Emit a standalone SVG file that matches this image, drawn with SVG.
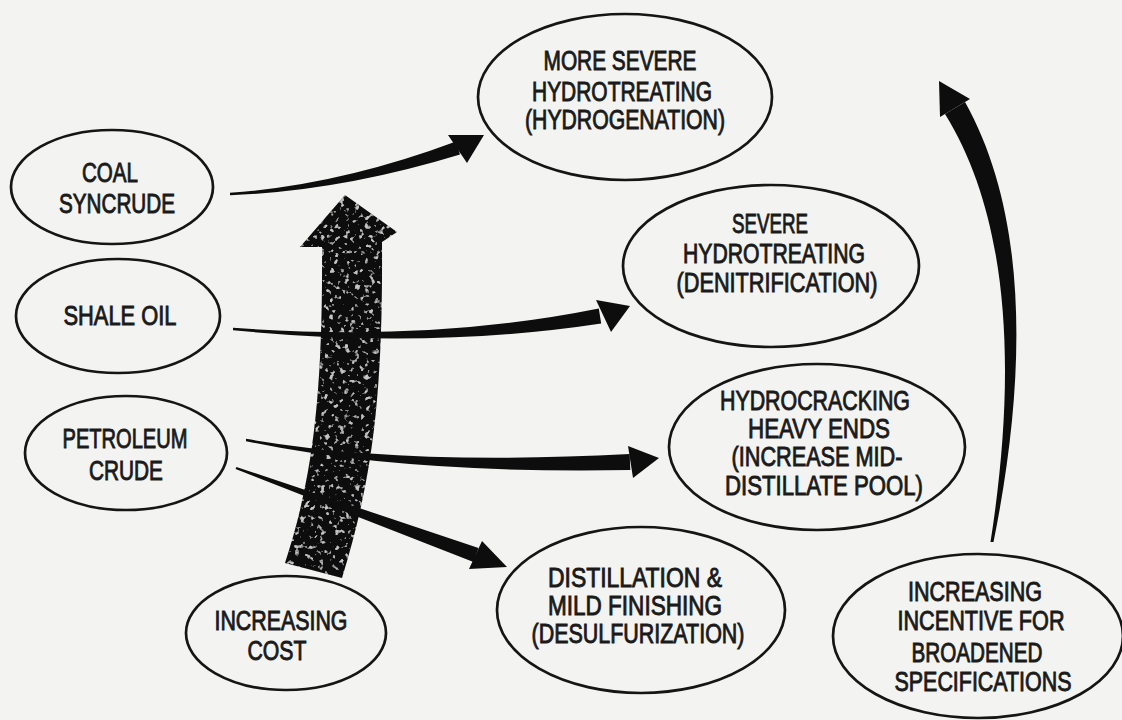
<svg xmlns="http://www.w3.org/2000/svg" width="1122" height="720" viewBox="0 0 1122 720">
<defs>
<style>
.node ellipse{fill:none;stroke:#151515;stroke-width:2.7}
.node text{font-family:"Liberation Sans",Arial,sans-serif;font-size:27px;fill:#1a1a1a;stroke:#1a1a1a;stroke-width:0.9;text-anchor:middle}
.arr{fill:#0d0d0d}
</style>
<filter id="speckle" x="0" y="0" width="1" height="1">
<feTurbulence type="fractalNoise" baseFrequency="0.2" numOctaves="2" seed="7" result="n"/>
<feColorMatrix in="n" type="matrix" values="0 0 0 0 0.55  0 0 0 0 0.55  0 0 0 0 0.55  7 0 0 0 -4.2" result="spk"/>
<feComposite in="spk" in2="SourceGraphic" operator="in" result="spk2"/>
<feMerge><feMergeNode in="SourceGraphic"/><feMergeNode in="spk2"/></feMerge>
</filter>
</defs>
<rect width="1122" height="720" fill="#f3f3f1"/>

<g id="connectors">
<g id="cost-arrow">
<path filter="url(#speckle)" fill="#0b0b0b" d="M345 195 L397 232 L382 242 C383 400 372 480 342 578 L285 563 C312 480 323 400 322 247 L300 247 Z"/>
</g>
<g id="coal-to-more-severe" class="arr">
<path d="M230 192.8 Q339.4 185 456 141.5 L460 154.5 Q340.6 191 230 195.2 Z"/>
<path d="M484 135 L448 135 L467 163 Z"/>
</g>
<g id="shale-to-severe" class="arr">
<path d="M233 327.8 Q429.8 342.5 598.8 308.5 L601.2 323.5 Q430.2 349.5 233 330.2 Z"/>
<path d="M630 306 L596 300 L611 332 Z"/>
</g>
<g id="petroleum-to-hydrocracking" class="arr">
<path d="M246 438.8 Q400.3 466 629.7 454 L630.3 470 Q399.7 474 246 441.2 Z"/>
<path d="M659 458 L628 446 L633 478 Z"/>
</g>
<g id="petroleum-to-distillation" class="arr">
<path d="M236.4 466.9 L478.5 548 L473.5 562 L235.6 469.1 Z"/>
<path d="M507 567 L482 541 L469 569 Z"/>
</g>
<g id="incentive-arrow" class="arr">
<path d="M990.5 542 C1016 379 1012 222 945 114 L965 102 C1030 218 1026 381 993.5 542 Z"/>
<path d="M939 81 L940 117 L970 99 Z"/>
</g>
</g>

<g id="coal-syncrude" class="node">
<ellipse cx="112" cy="187" rx="101" ry="57"/>
<text x="110" y="182" textLength="56" lengthAdjust="spacingAndGlyphs">COAL</text>
<text x="117" y="213" textLength="116" lengthAdjust="spacingAndGlyphs">SYNCRUDE</text>
</g>
<g id="shale-oil" class="node">
<ellipse cx="118" cy="316" rx="102" ry="57"/>
<text x="120" y="325" textLength="113" lengthAdjust="spacingAndGlyphs">SHALE OIL</text>
</g>
<g id="petroleum-crude" class="node">
<ellipse cx="126" cy="453" rx="101" ry="57"/>
<text x="125" y="448" textLength="125" lengthAdjust="spacingAndGlyphs">PETROLEUM</text>
<text x="126" y="480" textLength="74" lengthAdjust="spacingAndGlyphs">CRUDE</text>
</g>
<g id="increasing-cost" class="node">
<ellipse cx="286" cy="633" rx="100" ry="57"/>
<text x="281" y="630" textLength="133" lengthAdjust="spacingAndGlyphs">INCREASING</text>
<text x="277" y="660" textLength="59" lengthAdjust="spacingAndGlyphs">COST</text>
</g>
<g id="more-severe-hydrotreating" class="node">
<ellipse cx="625" cy="97" rx="147" ry="83"/>
<text x="620" y="70" textLength="153" lengthAdjust="spacingAndGlyphs">MORE SEVERE</text>
<text x="622" y="101" textLength="180" lengthAdjust="spacingAndGlyphs">HYDROTREATING</text>
<text x="625" y="129" textLength="200" lengthAdjust="spacingAndGlyphs">(HYDROGENATION)</text>
</g>
<g id="severe-hydrotreating" class="node">
<ellipse cx="771" cy="266" rx="148" ry="81"/>
<text x="770" y="233" textLength="76" lengthAdjust="spacingAndGlyphs">SEVERE</text>
<text x="774" y="263" textLength="182" lengthAdjust="spacingAndGlyphs">HYDROTREATING</text>
<text x="777" y="292" textLength="201" lengthAdjust="spacingAndGlyphs">(DENITRIFICATION)</text>
</g>
<g id="hydrocracking" class="node">
<ellipse cx="817" cy="447" rx="148" ry="83"/>
<text x="815" y="410" textLength="190" lengthAdjust="spacingAndGlyphs">HYDROCRACKING</text>
<text x="819" y="438" textLength="142" lengthAdjust="spacingAndGlyphs">HEAVY ENDS</text>
<text x="817" y="466" textLength="171" lengthAdjust="spacingAndGlyphs">(INCREASE MID-</text>
<text x="824" y="495" textLength="198" lengthAdjust="spacingAndGlyphs">DISTILLATE POOL)</text>
</g>
<g id="distillation" class="node">
<ellipse cx="641" cy="610" rx="144" ry="83"/>
<text x="635" y="587" textLength="174" lengthAdjust="spacingAndGlyphs">DISTILLATION &amp;</text>
<text x="635" y="615" textLength="174" lengthAdjust="spacingAndGlyphs">MILD FINISHING</text>
<text x="638" y="643" textLength="213" lengthAdjust="spacingAndGlyphs">(DESULFURIZATION)</text>
</g>
<g id="increasing-incentive" class="node">
<ellipse cx="978" cy="636" rx="145" ry="82"/>
<text x="975" y="601" textLength="134" lengthAdjust="spacingAndGlyphs">INCREASING</text>
<text x="981" y="630" textLength="167" lengthAdjust="spacingAndGlyphs">INCENTIVE FOR</text>
<text x="977" y="662" textLength="131" lengthAdjust="spacingAndGlyphs">BROADENED</text>
<text x="983" y="691" textLength="177" lengthAdjust="spacingAndGlyphs">SPECIFICATIONS</text>
</g>
</svg>
